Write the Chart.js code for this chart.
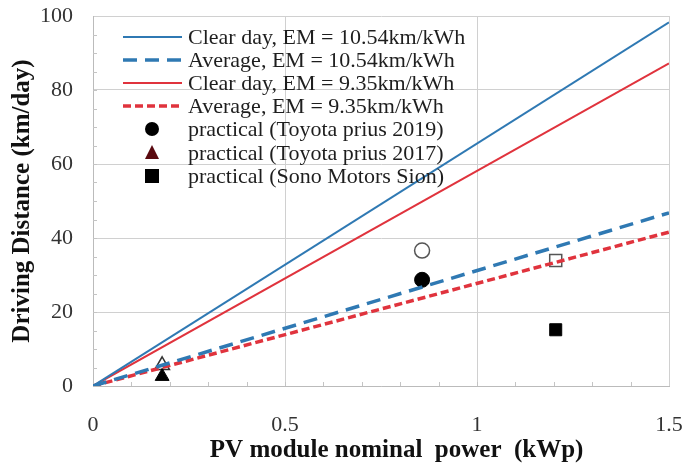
<!DOCTYPE html>
<html>
<head>
<meta charset="utf-8">
<script src="https://cdn.jsdelivr.net/npm/chart.js@4"></script>
<style>
  html, body { margin: 0; padding: 0; background: #fff; }
  #wrap { width: 686px; height: 467px; }
</style>
</head>
<body>
<div id="wrap"><canvas id="myChart" width="686" height="467"></canvas></div>
<script>
// datos
const powerRange = [0, 1.5];
const clearDay1054 = [0, 98.3];
const average1054 = [0, 46.8];
const clearDay935 = [0, 87.2];
const average935 = [0, 41.6];

const priusPower2019 = [0.857];
const prius2019Real = [28.7];
const prius2019Calc = [36.6];
const priusPower2017 = [0.18];
const prius2017Real = [2.6];
const prius2017Calc = [5.6];
const sionPower = [1.205];
const sionReal = [15.2];
const sionCalc = [33.9];

const xTicks = [0, 0.5, 1, 1.5];
const xTickLabels = ['0', '0.5', '1', '1.5'];
const yTicks = [0, 20, 40, 60, 80, 100];

const legendLabels = [
  'Clear day, EM = 10.54km/kWh',
  'Average, EM = 10.54km/kWh',
  'Clear day, EM = 9.35km/kWh',
  'Average, EM = 9.35km/kWh',
  'practical (Toyota prius 2019)',
  'practical (Toyota prius 2017)',
  'practical (Sono Motors Sion)'
];

const BLUE = '#2f79b3';
const RED = '#e0333d';
const SERIF = '"Liberation Serif", "DejaVu Serif", serif';

function pts(xs, ys) {
  return xs.map((x, i) => ({ x: x, y: ys[i] }));
}

// sin relleno extra por las etiquetas de los extremos
function noPad(s) {
  s.paddingTop = 0; s.paddingBottom = 0; s.paddingLeft = 0; s.paddingRight = 0;
}

// leyenda dentro del area, dibujada a mano
const insideLegend = {
  id: 'insideLegend',
  afterDraw(chart) {
    const ctx = chart.ctx;
    const x0 = 123, x1 = 182, tx = 188;
    const rows = [37, 60, 83, 106, 129, 153, 176];
    ctx.save();
    ctx.font = '22px ' + SERIF;
    ctx.textBaseline = 'middle';
    for (let i = 0; i < 7; i++) {
      const ds = chart.data.datasets[i];
      const y = rows[i];
      if (i < 4) {
        ctx.strokeStyle = ds.borderColor;
        ctx.lineWidth = ds.borderWidth;
        ctx.setLineDash(ds.borderDash || []);
        ctx.beginPath();
        ctx.moveTo(x0, y);
        ctx.lineTo(x1, y);
        ctx.stroke();
        ctx.setLineDash([]);
      } else {
        const cx = 152;
        ctx.fillStyle = ds.backgroundColor;
        ctx.beginPath();
        if (ds.pointStyle === 'circle') {
          ctx.arc(cx, y, 7, 0, Math.PI * 2);
        } else if (ds.pointStyle === 'triangle') {
          ctx.fillStyle = '#5a0a10';
          ctx.moveTo(cx, y - 8); ctx.lineTo(cx + 7, y + 6); ctx.lineTo(cx - 7, y + 6); ctx.closePath();
        } else {
          ctx.rect(cx - 7, y - 7, 14, 14);
        }
        ctx.fill();
      }
      ctx.fillStyle = '#1e1e1e';
      ctx.fillText(legendLabels[i], tx, y + 1);
    }
    ctx.restore();
  }
};

// marcas menores
const minorTicks = {
  id: 'minorTicks',
  beforeDatasetsDraw(chart) {
    const ctx = chart.ctx;
    const xs = chart.scales.x, ys = chart.scales.y;
    const area = chart.chartArea;
    ctx.save();
    ctx.strokeStyle = '#c4c4c4';
    ctx.lineWidth = 1;
    ctx.beginPath();
    for (let v = 1; v < 15; v++) {
      const px = Math.round(xs.getPixelForValue(v / 10)) + 0.5;
      ctx.moveTo(px, area.bottom);
      ctx.lineTo(px, area.bottom - 4);
    }
    for (let v = 1; v < 20; v++) {
      const py = Math.round(ys.getPixelForValue(v * 5)) + 0.5;
      ctx.moveTo(area.left, py);
      ctx.lineTo(area.left + 4, py);
    }
    ctx.stroke();
    ctx.restore();
  }
};

const ctx = document.getElementById('myChart');

new Chart(ctx, {
  type: 'scatter',
  data: {
    datasets: [
      { label: legendLabels[0], data: pts(powerRange, clearDay1054), showLine: true, borderColor: BLUE, borderWidth: 2, pointRadius: 0 },
      { label: legendLabels[1], data: pts(powerRange, average1054), showLine: true, borderColor: BLUE, borderWidth: 3.5, borderDash: [14, 8], pointRadius: 0 },
      { label: legendLabels[2], data: pts(powerRange, clearDay935), showLine: true, borderColor: RED, borderWidth: 2, pointRadius: 0 },
      { label: legendLabels[3], data: pts(powerRange, average935), showLine: true, borderColor: RED, borderWidth: 3.5, borderDash: [8, 4], pointRadius: 0 },
      { label: legendLabels[4], data: pts(priusPower2019, prius2019Real), pointStyle: 'circle', pointRadius: 7.5, backgroundColor: '#000', borderColor: '#000', borderWidth: 1 },
      { label: legendLabels[5], data: pts(priusPower2017, prius2017Real), pointStyle: 'triangle', pointRadius: 8, backgroundColor: '#000', borderColor: '#000', borderWidth: 1 },
      { label: legendLabels[6], data: pts(sionPower, sionReal), pointStyle: 'rect', pointRadius: 8.5, backgroundColor: '#000', borderColor: '#000', borderWidth: 1 },
      { label: 'calc 2019', data: pts(priusPower2019, prius2019Calc), pointStyle: 'circle', pointRadius: 7.5, backgroundColor: '#fff', borderColor: '#555', borderWidth: 1.5 },
      { label: 'calc 2017', data: pts(priusPower2017, prius2017Calc), pointStyle: 'triangle', pointRadius: 8.5, backgroundColor: '#fff', borderColor: '#333', borderWidth: 1.5 },
      { label: 'calc sion', data: pts(sionPower, sionCalc), pointStyle: 'rect', pointRadius: 8.5, backgroundColor: '#fff', borderColor: '#555', borderWidth: 1.5 }
    ]
  },
  options: {
    responsive: false,
    animation: false,
    layout: { padding: { left: 0, right: 17, top: 16, bottom: 0 } },
    plugins: {
      legend: { display: false },
      tooltip: { enabled: false }
    },
    scales: {
      x: {
        type: 'linear',
        min: 0, max: 1.5,
        afterFit(s) { s.height = 81; noPad(s); },
        afterBuildTicks(s) { s.ticks = xTicks.map(v => ({ value: v })); },
        grid: { color: '#d0d0d0', drawTicks: false },
        border: { color: '#bbb' },
        ticks: {
          padding: 26, color: '#333', font: { family: SERIF, size: 22 },
          callback: (v) => xTickLabels[xTicks.indexOf(v)]
        },
        title: {
          display: true,
          text: '     PV module nominal  power  (kWp)',
          color: '#111',
          font: { family: SERIF, size: 25, weight: 'bold' },
          padding: { top: 0, bottom: 1 }
        }
      },
      y: {
        min: 0, max: 100,
        afterFit(s) { s.width = 93; noPad(s); },
        afterBuildTicks(s) { s.ticks = yTicks.map(v => ({ value: v })); },
        grid: { color: '#d0d0d0', drawTicks: false },
        border: { color: '#bbb' },
        ticks: { padding: 20, color: '#333', font: { family: SERIF, size: 22 } },
        title: {
          display: true,
          text: 'Driving Distance (km/day)',
          color: '#111',
          font: { family: SERIF, size: 25, weight: 'bold' },
          padding: { top: 8, bottom: 0 }
        }
      }
    }
  },
  plugins: [insideLegend, minorTicks]
});
</script>
</body>
</html>
